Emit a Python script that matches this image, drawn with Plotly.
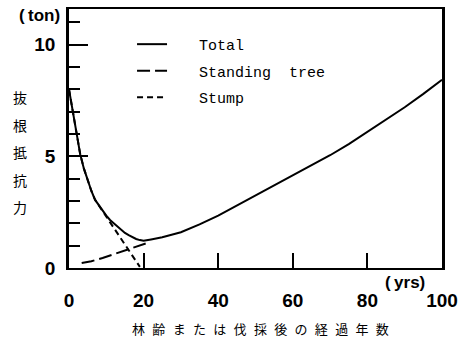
import plotly.graph_objects as go

# ---- data ----
total_x = [0, 1, 2, 3, 4, 5, 6, 7, 8, 9, 10, 11, 12, 13, 14, 15, 16, 17, 18, 19, 20,
           22, 25, 30, 35, 40, 45, 50, 55, 60, 65, 70, 75, 80, 85, 90, 95, 100]
total_y = [8.0, 7.0, 6.0, 5.1, 4.45, 3.9, 3.45, 3.05, 2.8, 2.55, 2.35, 2.15, 2.0, 1.85, 1.7,
           1.57, 1.47, 1.38, 1.3, 1.25, 1.22,
           1.28, 1.38, 1.6, 1.95, 2.35, 2.8, 3.25, 3.67, 4.13, 4.6, 5.05, 5.55, 6.1, 6.65,
           7.2, 7.8, 8.43]

stand_x = [3.4, 6, 9, 12, 15, 18, 21]
stand_y = [0.22, 0.3, 0.45, 0.62, 0.8, 0.97, 1.12]

stump_x = [0, 1, 2, 3, 4, 5, 6, 7, 9, 11, 13, 15, 17, 19]
stump_y = [8.0, 7.0, 6.0, 5.1, 4.45, 3.9, 3.45, 3.05, 2.55, 2.02, 1.53, 1.05, 0.57, 0.05]

x_ticks = [0, 20, 40, 60, 80, 100]
y_ticks = [0, 5, 10]

series_names = ["Total", "Standing\u00a0\u00a0tree", "Stump"]
y_title_chars = ["抜", "根", "抵", "抗", "力"]
x_title = "林齢または伐採後の経過年数"

pad = "\u00a0\u00a0\u00a0"
fig = go.Figure()
common = dict(mode="lines", hoverinfo="skip")
fig.add_trace(go.Scatter(x=total_x, y=total_y, name=pad + series_names[0], legendgroup="a",
                         line=dict(color="black", width=2), **common))
fig.add_trace(go.Scatter(x=stand_x, y=stand_y, name=pad + series_names[1], legendgroup="b",
                         line=dict(color="black", width=2, dash="13px,5px"), **common))
fig.add_trace(go.Scatter(x=stump_x, y=stump_y, name=pad + series_names[2], legendgroup="c",
                         line=dict(color="black", width=2, dash="6px,4px"), **common))

W, H, L, R, T, B = 475, 340, 69, 33, 9, 72
fig.update_layout(
    width=W, height=H,
    margin=dict(l=L, r=R, t=T, b=B, autoexpand=False),
    paper_bgcolor="white", plot_bgcolor="white",
    showlegend=True,
    legend=dict(x=0.169, y=0.927, xanchor="left", yanchor="top",
                font=dict(family="Liberation Mono", size=15, color="black"),
                bgcolor="rgba(0,0,0,0)", tracegroupgap=4),
    font=dict(family="Liberation Sans", color="black"),
)

fig.update_xaxes(
    range=[0, 100], tickvals=x_ticks, ticktext=[str(v) for v in x_ticks],
    ticks="inside", ticklen=15, tickwidth=2, tickcolor="black",
    showline=True, linewidth=2, linecolor="black", mirror=True,
    showgrid=False, zeroline=False, automargin=False,
    tickfont=dict(family="Liberation Sans", size=19, color="black", weight="bold"),
    ticklabelstandoff=14,
)
fig.update_yaxes(
    range=[0, 11.6], tickvals=y_ticks, ticktext=[str(v) for v in y_ticks],
    ticks="inside", ticklen=19, tickwidth=2, tickcolor="black",
    minor=dict(dtick=1, tick0=0, ticks="inside", ticklen=11, tickwidth=2, tickcolor="black"),
    showline=True, linewidth=2.5, linecolor="black", mirror=True,
    showgrid=False, zeroline=False, automargin=False,
    tickfont=dict(family="Liberation Sans", size=19, color="black", weight="bold"),
    ticklabelstandoff=7,
)

pw, ph = W - L - R, H - T - B
def px(xp, yp):
    return (xp - L) / pw, (H - B - yp) / ph

def note(text, xp, yp, font):
    x0, y0 = px(xp, yp)
    return dict(text=text, x=x0, y=y0, xref="paper", yref="paper", showarrow=False,
                xanchor="center", yanchor="middle", borderpad=0, font=font)

annotations = []
annotations.append(note("(\u2009ton)", 39, 16,
                        dict(family="Liberation Sans", size=17, color="black", weight="bold")))
annotations.append(note("(\u2009yrs)", 405, 282,
                        dict(family="Liberation Sans", size=17, color="black", weight="bold")))
annotations.append(note("\u2002\u200a".join(x_title), 260, 328,
                        dict(family="Noto Sans CJK JP", size=13, color="black")))
for i, ch in enumerate(y_title_chars):
    annotations.append(note(ch, 20, 97 + i * 27.5,
                            dict(family="Noto Sans CJK JP", size=14, color="black")))
fig.update_layout(annotations=annotations)

fig.write_html("out.html", post_script="document.body.style.margin='0';",
               config={"displayModeBar": False})
